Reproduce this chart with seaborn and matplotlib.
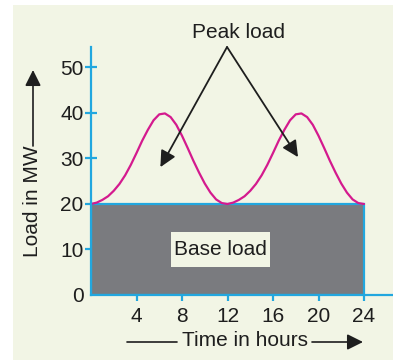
import matplotlib
matplotlib.use("Agg")
import matplotlib.pyplot as plt
import seaborn as sns
import pandas as pd
from matplotlib.patches import Rectangle, FancyArrowPatch
from matplotlib.lines import Line2D

# Daily load curve (MW) sampled every half hour
hours = [i * 0.5 for i in range(49)]
load_mw = [20.0, 20.3, 20.9, 21.7, 22.9, 24.4, 26.3, 28.6, 31.2, 33.9, 36.3, 38.4,
           39.7, 39.9, 39.1, 37.4, 35.0, 32.3, 29.5, 26.9, 24.5, 22.5, 21.0, 20.2,
           20.0, 20.3, 20.9, 21.7, 22.9, 24.4, 26.3, 28.6, 31.2, 33.9, 36.3, 38.4,
           39.7, 39.9, 39.1, 37.4, 35.0, 32.3, 29.5, 26.9, 24.5, 22.5, 21.0, 20.2,
           20.0]
base_load = 20
day_length = 24
x_ticks = [4, 8, 12, 16, 20, 24]
y_ticks = [0, 10, 20, 30, 40, 50]

BG = "#f2f5e5"
BLUE = "#22a7df"
MAGENTA = "#d41a8e"
GREY = "#7a7b7f"
INK = "#1e1e1e"

sns.set_theme(style="white")
plt.rcParams["font.family"] = ["Liberation Sans", "DejaVu Sans"]

W, H = 393, 360
fig = plt.figure(figsize=(W / 100, H / 100), dpi=100, facecolor="white")
fig.patches.append(Rectangle((13 / W, 0), 1 - 13 / W, 355 / H,
                             transform=fig.transFigure, facecolor=BG,
                             edgecolor="none", zorder=-10))

ax = fig.add_axes([91 / W, 65 / H, (W - 91) / W, (295 - 47) / H])
ax.set_facecolor("none")
ax.set_zorder(2)

# Base load block
ax.bar(0, base_load, width=day_length, align="edge", color=GREY,
       edgecolor=BLUE, linewidth=1.6, zorder=2)

# Load curve
df = pd.DataFrame({"hour": hours, "load": load_mw})
sns.lineplot(data=df, x="hour", y="load", ax=ax, color=MAGENTA, lw=1.6, zorder=3)
for ln in ax.lines:
    ln.set_solid_joinstyle("round")

ax.set_xlim(0, (W - 91) / 11.375)
ax.set_ylim(0, 54.5)
ax.set_xticks(x_ticks)
ax.set_yticks(y_ticks)
ax.set_xlabel("")
ax.set_ylabel("")

for s in ["top", "right"]:
    ax.spines[s].set_visible(False)
for s in ["left", "bottom"]:
    ax.spines[s].set_color(BLUE)
    ax.spines[s].set_linewidth(1.6)
    ax.spines[s].set_zorder(4)

ax.tick_params(axis="y", direction="inout", length=8.5, width=1.6, color=BLUE,
               labelsize=15, labelcolor=INK, pad=1, left=True)
ax.tick_params(axis="x", direction="out", length=4, width=1.6, color=BLUE,
               labelsize=15, labelcolor=INK, pad=5, bottom=True)
ax.yaxis.get_major_ticks()[0].tick1line.set_visible(False)

# Base load label
ax.add_patch(Rectangle((7.03, 6.15), 8.71, 7.7, facecolor=BG, edgecolor="none", zorder=5))
ax.text(11.38, 10, "Base load", ha="center", va="center", fontsize=15,
        color=INK, zorder=6)

# Peak load callout
ax.text(12.95, 57.6, "Peak load", ha="center", va="center", fontsize=15,
        color=INK, clip_on=False)
apex = (11.96, 54.5)
for head in [(6.1, 28.1), (18.2, 30.3)]:
    ax.annotate("", xy=head, xytext=apex, annotation_clip=False,
                arrowprops=dict(arrowstyle="-|>,head_length=0.65,head_width=0.32",
                                mutation_scale=15, color=INK, lw=1.3,
                                shrinkA=0, shrinkB=0))

# Axis titles with arrows
fig.text(33 / W, (H - 201) / H, "Load in MW", rotation=90, ha="center",
         va="center", fontsize=15, color=INK)
fig.add_artist(FancyArrowPatch(
    (33, H - 146), (33, H - 70), transform=None,
    arrowstyle="-|>,head_length=0.6,head_width=0.3", mutation_scale=16,
    color=INK, lw=1.2, shrinkA=0, shrinkB=0))

fig.text(245 / W, (H - 341) / H, "Time in hours", ha="center", va="center",
         fontsize=15, color=INK)
fig.add_artist(Line2D([127, 177], [H - 342, H - 342],
                      transform=None, color=INK, lw=1.2))
fig.add_artist(FancyArrowPatch(
    (312, H - 342), (363, H - 342), transform=None,
    arrowstyle="-|>,head_length=0.6,head_width=0.3", mutation_scale=16,
    color=INK, lw=1.2, shrinkA=0, shrinkB=0))

fig.savefig("out.png", dpi=100, facecolor="white")
